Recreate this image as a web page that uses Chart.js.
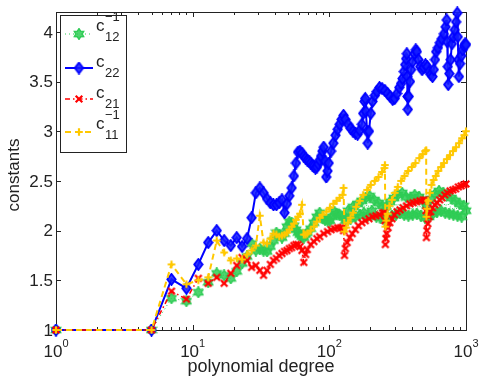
<!DOCTYPE html>
<html>
<head>
<meta charset="utf-8">
<script src="https://cdn.jsdelivr.net/npm/chart.js@4.4.0/dist/chart.umd.min.js"></script>
<style>
html, body { margin: 0; padding: 0; background: #fff; }
</style>
</head>
<body>
<canvas id="chart" width="479" height="377"></canvas>
<script>
// values (polynomial degree -> constant)
const degC12 = [1,5,7,9,11,13,15,17,19,21,23,25,27,29,31,33,35,37,39,41,43,45,47,49,51,53,55,57,59,61,
  63,65,67,69,73,77,81,85,89,93,97,101,105,109,113,119,125,131,137,143,149,155,161,167,173,179,185,191,197,205,
  213,221,229,237,245,253,261,269,277,287,297,307,317,329,341,353,365,379,393,407,421,437,453,469,485,501,517,535,553,573,
  593,613,635,657,681,705,729,755,781,809,837,867,897,929,961,999];
const valC12 = [1,1,1.32,1.29,1.38,1.48,1.57,1.55,1.52,1.59,1.67,1.74,1.87,1.80,1.82,1.80,1.79,1.84,1.90,1.98,
  1.96,1.93,1.97,2.04,2.09,2.08,2.05,2.01,1.98,1.96,1.94,1.93,1.96,1.98,2.02,2.08,2.14,2.18,2.13,2.11,
  2.10,2.10,2.14,2.19,2.17,2.16,2.14,2.10,2.20,2.12,2.24,2.14,2.27,2.16,2.30,2.18,2.33,2.15,2.35,2.20,
  2.31,2.14,2.28,2.13,2.25,2.11,2.24,2.13,2.29,2.15,2.33,2.16,2.36,2.18,2.38,2.16,2.34,2.15,2.33,2.16,
  2.36,2.17,2.34,2.15,2.30,2.13,2.26,2.14,2.32,2.17,2.37,2.19,2.40,2.20,2.38,2.18,2.36,2.17,2.33,2.16,
  2.30,2.15,2.27,2.14,2.25,2.20];

const degC22 = [1,5,7,9,11,13,15,17,19,21,23,25,27,29,31,33,35,37,39,41,43,45,47,49,51,53,55,57,59,61,
  63,65,67,69,71,73,75,77,79,81,83,85,87,89,91,93,95,97,99,103,107,111,115,119,123,127,131,137,143,149,
  155,161,167,173,177,181,183,185,189,191,195,201,207,215,223,233,243,255,267,279,291,301,313,325,335,343,351,359,365,369,
  371,373,375,381,389,397,407,419,429,437,449,463,477,491,505,521,537,553,569,581,593,605,623,643,665,689,709,723,729,735,
  741,755,771,789,807,827,847,863,871,879,887,905,925,945,967,985,999];
const valC22 = [1,1,1.51,1.42,1.66,1.88,2.00,1.90,1.85,1.93,1.84,1.92,2.13,2.38,2.43,2.38,2.32,2.28,2.26,2.26,
  2.28,2.31,2.18,2.27,2.35,2.43,2.55,2.68,2.79,2.80,2.78,2.75,2.73,2.71,2.70,2.68,2.66,2.65,2.63,2.64,
  2.67,2.71,2.75,2.80,2.84,2.70,2.54,2.60,2.68,2.80,2.88,2.96,3.02,3.07,3.12,3.16,3.12,3.07,3.03,3.00,
  2.98,2.97,3.01,3.07,3.18,3.30,3.33,3.20,3.00,2.88,3.00,3.18,3.30,3.36,3.40,3.44,3.43,3.41,3.38,3.35,
  3.32,3.33,3.38,3.44,3.48,3.53,3.60,3.67,3.73,3.78,3.55,3.35,3.22,3.35,3.50,3.62,3.70,3.78,3.82,3.80,
  3.72,3.65,3.62,3.64,3.67,3.65,3.60,3.57,3.55,3.62,3.72,3.80,3.84,3.89,3.93,3.98,4.05,4.12,3.90,3.65,
  3.47,3.58,3.72,3.88,3.95,4.02,4.10,4.19,3.95,3.72,3.55,3.68,3.76,3.82,3.86,3.88,3.87];

const degC21 = [1,5,7,9,11,13,15,17,19,21,23,25,27,29,31,33,35,37,39,41,43,45,47,49,51,53,55,57,59,61,
  63,65,67,69,73,77,81,85,91,97,103,109,115,121,125,127,129,131,135,141,147,155,163,173,183,195,207,219,233,245,
  253,255,257,259,263,269,277,287,299,313,329,347,367,389,411,435,461,487,505,509,513,517,525,537,551,569,591,615,641,669,
  699,731,765,801,839,879,921,961,999];
const valC21 = [1,1,1.39,1.31,1.52,1.47,1.53,1.47,1.57,1.65,1.73,1.70,1.63,1.65,1.60,1.55,1.60,1.66,1.70,1.72,
  1.75,1.77,1.79,1.80,1.82,1.83,1.85,1.86,1.86,1.84,1.80,1.68,1.76,1.81,1.86,1.89,1.92,1.94,1.97,1.99,
  2.01,2.02,2.03,2.03,2.03,2.00,1.75,1.82,1.88,1.93,1.97,2.01,2.05,2.08,2.10,2.12,2.14,2.15,2.16,2.18,
  2.18,2.10,1.86,1.92,1.97,2.03,2.08,2.12,2.16,2.19,2.21,2.23,2.25,2.27,2.28,2.29,2.30,2.31,2.31,2.20,
  1.93,2.00,2.07,2.14,2.19,2.23,2.26,2.28,2.31,2.33,2.36,2.38,2.40,2.41,2.42,2.44,2.45,2.46,2.47];

const degC11 = [1,5,7,9,11,13,15,17,19,21,23,25,27,29,31,33,35,37,39,41,43,45,47,49,51,53,55,57,59,61,
  63,65,67,69,73,77,81,85,89,95,101,107,113,119,125,127,129,133,137,143,149,157,167,177,189,201,215,229,243,253,
  255,257,261,267,275,287,301,317,335,355,377,401,427,455,483,503,511,513,519,529,543,559,579,601,627,657,689,725,763,803,
  845,889,935,971,999];
const valC11 = [1,1,1.66,1.46,1.50,1.53,1.90,1.78,1.70,1.72,1.71,1.76,1.80,1.85,2.15,1.88,1.87,1.92,1.97,1.96,
  1.94,1.95,1.96,1.98,2.01,2.04,2.07,2.11,2.14,2.17,2.26,1.96,1.96,1.97,2.00,2.04,2.09,2.13,2.16,2.19,
  2.23,2.27,2.30,2.33,2.36,2.43,1.99,2.03,2.08,2.13,2.18,2.24,2.30,2.36,2.41,2.46,2.50,2.54,2.59,2.63,
  2.66,2.04,2.10,2.17,2.25,2.31,2.38,2.44,2.50,2.55,2.60,2.64,2.68,2.73,2.77,2.80,2.81,2.14,2.22,2.30,
  2.38,2.46,2.51,2.55,2.60,2.64,2.68,2.72,2.76,2.80,2.84,2.88,2.93,2.96,3.00];

const xTickExps = [0, 1, 2, 3];
const yTicks = [1, 1.5, 2, 2.5, 3, 3.5, 4];
const yTickLabels = ['1', '1.5', '2', '2.5', '3', '3.5', '4'];

const GREEN = '#2fcc55';
const BLUE = '#0000ff';
const RED = '#ff0000';
const YELLOW = '#ffc800';
const INK = '#222';
const FONT = '"Liberation Sans", Arial, Helvetica, sans-serif';

// small canvases used as marker shapes
function markerCanvas(w, h, draw) {
    const c = document.createElement('canvas');
    c.width = w;
    c.height = h;
    draw(c.getContext('2d'), w / 2, h / 2);
    return c;
}

const starMark = markerCanvas(12, 12, function(g, cx, cy) {
    g.beginPath();
    for (let k = 0; k < 12; k++) {
        const r = k % 2 === 0 ? 5.4 : 3.2;
        const a = (-90 + k * 30) * Math.PI / 180;
        const px = cx + r * Math.cos(a), py = cy + r * Math.sin(a);
        if (k === 0) g.moveTo(px, py); else g.lineTo(px, py);
    }
    g.closePath();
    g.fillStyle = 'rgba(47,204,85,0.85)';
    g.fill();
    g.strokeStyle = GREEN;
    g.lineWidth = 1.4;
    g.stroke();
});

const diamondMark = markerCanvas(11, 13, function(g, cx, cy) {
    g.beginPath();
    g.moveTo(cx, cy - 5.5);
    g.lineTo(cx + 4.2, cy);
    g.lineTo(cx, cy + 5.5);
    g.lineTo(cx - 4.2, cy);
    g.closePath();
    g.fillStyle = 'rgba(20,30,255,0.88)';
    g.fill();
    g.strokeStyle = BLUE;
    g.lineWidth = 1.8;
    g.stroke();
});

const xMark = markerCanvas(10, 10, function(g, cx, cy) {
    g.strokeStyle = RED;
    g.lineWidth = 2.2;
    g.beginPath();
    g.moveTo(cx - 3.3, cy - 3.3); g.lineTo(cx + 3.3, cy + 3.3);
    g.moveTo(cx + 3.3, cy - 3.3); g.lineTo(cx - 3.3, cy + 3.3);
    g.stroke();
});

const plusMark = markerCanvas(10, 10, function(g, cx, cy) {
    g.strokeStyle = YELLOW;
    g.lineWidth = 2.2;
    g.beginPath();
    g.moveTo(cx - 3.8, cy); g.lineTo(cx + 3.8, cy);
    g.moveTo(cx, cy - 3.8); g.lineTo(cx, cy + 3.8);
    g.stroke();
});

function toPoints(xs, ys) {
    return xs.map(function(x, i) { return { x: x, y: ys[i] }; });
}

// legend entries: colour, dash, marker, subscript, superscript
const legendItems = [
    { color: GREEN, dash: [1, 3], width: 1, mark: starMark, sub: '12', sup: '\u22121' },
    { color: BLUE, dash: [], width: 2, mark: diamondMark, sub: '22', sup: '' },
    { color: RED, dash: [5, 3, 1.5, 3], width: 1.5, mark: xMark, sub: '21', sup: '' },
    { color: YELLOW, dash: [6, 4], width: 2, mark: plusMark, sub: '11', sup: '\u22121' }
];

// box, inward ticks, tick labels, axis titles (matlab look)
const axesPlugin = {
    id: 'axesPlugin',
    beforeDatasetsDraw(chart) {
        const ctx = chart.ctx;
        const a = chart.chartArea;
        const xs = chart.scales.x, ys = chart.scales.y;
        ctx.save();
        ctx.strokeStyle = INK;
        ctx.lineWidth = 1;
        ctx.strokeRect(a.left + 0.5, a.top + 0.5, a.right - a.left, a.bottom - a.top);

        ctx.beginPath();
        for (let d = 0; d < 3; d++) {
            for (let m = 1; m <= 9; m++) {
                const px = Math.round(xs.getPixelForValue(m * Math.pow(10, d))) + 0.5;
                const len = m === 1 ? 5 : 3;
                ctx.moveTo(px, a.bottom); ctx.lineTo(px, a.bottom - len);
                ctx.moveTo(px, a.top); ctx.lineTo(px, a.top + len);
            }
        }
        yTicks.forEach(function(v) {
            const py = Math.round(ys.getPixelForValue(v)) + 0.5;
            ctx.moveTo(a.left, py); ctx.lineTo(a.left + 5, py);
            ctx.moveTo(a.right, py); ctx.lineTo(a.right - 5, py);
        });
        ctx.stroke();

        ctx.fillStyle = INK;
        ctx.font = '17px ' + FONT;
        ctx.textAlign = 'right';
        ctx.textBaseline = 'middle';
        yTicks.forEach(function(v, i) {
            ctx.fillText(yTickLabels[i], a.left - 3, ys.getPixelForValue(v) + 1);
        });

        ctx.textAlign = 'left';
        ctx.textBaseline = 'alphabetic';
        xTickExps.forEach(function(e) {
            const px = xs.getPixelForValue(Math.pow(10, e));
            ctx.font = '17px ' + FONT;
            const w1 = ctx.measureText('10').width;
            ctx.font = '11px ' + FONT;
            const w2 = ctx.measureText(String(e)).width;
            const x0 = px - (w1 + w2) / 2;
            ctx.font = '17px ' + FONT;
            ctx.fillText('10', x0, 357);
            ctx.font = '11px ' + FONT;
            ctx.fillText(String(e), x0 + w1, 347);
        });

        ctx.font = '18px ' + FONT;
        ctx.textAlign = 'center';
        ctx.fillText('polynomial degree', 261, 372);
        ctx.font = '17px ' + FONT;
        ctx.save();
        ctx.translate(19, 175);
        ctx.rotate(-Math.PI / 2);
        ctx.fillText('constants', 0, 0);
        ctx.restore();
        ctx.restore();
    },
    afterDraw(chart) {
        const ctx = chart.ctx;
        ctx.save();
        ctx.fillStyle = '#fff';
        ctx.fillRect(60.5, 15.5, 66, 137);
        ctx.strokeStyle = INK;
        ctx.lineWidth = 1;
        ctx.strokeRect(60.5, 15.5, 66, 137);
        const rows = [34, 68, 99, 132];
        legendItems.forEach(function(it, i) {
            const y = rows[i];
            ctx.strokeStyle = it.color;
            ctx.lineWidth = it.width;
            ctx.setLineDash(it.dash);
            ctx.beginPath();
            ctx.moveTo(65, y);
            ctx.lineTo(93, y);
            ctx.stroke();
            ctx.setLineDash([]);
            ctx.drawImage(it.mark, 79 - it.mark.width / 2, y - it.mark.height / 2);
            ctx.fillStyle = INK;
            ctx.textAlign = 'left';
            ctx.textBaseline = 'alphabetic';
            const up = it.sup ? 3.5 : 1.5;
            ctx.font = '17px ' + FONT;
            ctx.fillText('c', 96, y - up);
            ctx.font = '13px ' + FONT;
            ctx.fillText(it.sub, 105, y + 8.5 - (up - 1.5));
            if (it.sup) ctx.fillText(it.sup, 105, y - 13);
        });
        ctx.restore();
    }
};

function makeSet(label, xs, ys, color, dash, width, mark, order) {
    return {
        label: label,
        data: toPoints(xs, ys),
        borderColor: color,
        backgroundColor: color,
        borderWidth: width,
        borderDash: dash,
        pointStyle: mark,
        pointRadius: 4,
        tension: 0,
        clip: false,
        order: order
    };
}

new Chart(document.getElementById('chart').getContext('2d'), {
    type: 'line',
    data: {
        datasets: [
            makeSet('c12^-1', degC12, valC12, GREEN, [1, 3], 1, starMark, 3),
            makeSet('c22', degC22, valC22, BLUE, [], 2, diamondMark, 2),
            makeSet('c21', degC21, valC21, RED, [5, 3, 1.5, 3], 1.5, xMark, 1),
            makeSet('c11^-1', degC11, valC11, YELLOW, [6, 4], 2, plusMark, 0)
        ]
    },
    options: {
        responsive: false,
        animation: false,
        layout: { padding: { left: 56, right: 13, top: 12, bottom: 47 } },
        plugins: { legend: { display: false }, tooltip: { enabled: false } },
        scales: {
            x: { type: 'logarithmic', min: 1, max: 1000, display: false },
            y: { type: 'linear', min: 1, max: 4.2, display: false }
        }
    },
    plugins: [axesPlugin]
});
</script>
</body>
</html>
